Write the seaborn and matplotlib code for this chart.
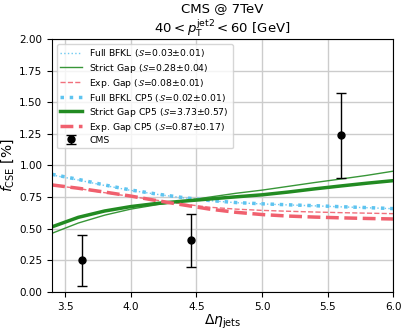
import matplotlib
matplotlib.use("Agg")
import matplotlib.pyplot as plt
import seaborn as sns

# rapidity grid for the theory curves
eta = [3.4, 3.6, 3.8, 4.0, 4.2, 4.4, 4.6, 4.8, 5.0, 5.2, 5.4, 5.6, 5.8, 6.0]

full_bfkl = [0.925, 0.885, 0.842, 0.803, 0.772, 0.744, 0.722, 0.706, 0.696, 0.688, 0.681, 0.673, 0.666, 0.658]
strict_gap = [0.464, 0.545, 0.607, 0.655, 0.690, 0.718, 0.750, 0.780, 0.805, 0.835, 0.865, 0.893, 0.922, 0.955]
exp_gap = [0.845, 0.818, 0.785, 0.755, 0.725, 0.695, 0.670, 0.655, 0.645, 0.638, 0.632, 0.627, 0.623, 0.619]
full_bfkl_cp5 = [0.930, 0.890, 0.846, 0.806, 0.774, 0.746, 0.723, 0.707, 0.697, 0.689, 0.682, 0.674, 0.667, 0.659]
strict_gap_cp5 = [0.515, 0.590, 0.640, 0.675, 0.700, 0.718, 0.735, 0.752, 0.768, 0.790, 0.815, 0.838, 0.860, 0.880]
exp_gap_cp5 = [0.846, 0.820, 0.790, 0.758, 0.722, 0.688, 0.655, 0.630, 0.612, 0.600, 0.592, 0.586, 0.581, 0.577]

# CMS data
cms_eta = [3.63, 4.46, 5.60]
cms_f = [0.25, 0.41, 1.24]
cms_err_lo = [0.20, 0.21, 0.34]
cms_err_hi = [0.20, 0.21, 0.33]

blue = "#5ec4f0"
green = "#228b22"
red = "#f0606e"

fig = plt.figure(figsize=(4.07, 3.34), dpi=100)
ax = fig.add_axes([0.128, 0.126, 0.838, 0.757])

sns.lineplot(x=eta, y=full_bfkl, ax=ax, color=blue, lw=1.0, ls=":", alpha=0.9,
             label=r"Full BFKL ($\mathcal{S}$=0.03$\pm$0.01)")
sns.lineplot(x=eta, y=strict_gap, ax=ax, color=green, lw=1.0, ls="-", alpha=0.9,
             label=r"Strict Gap ($\mathcal{S}$=0.28$\pm$0.04)")
sns.lineplot(x=eta, y=exp_gap, ax=ax, color=red, lw=1.0, ls="--", alpha=0.9,
             label=r"Exp. Gap ($\mathcal{S}$=0.08$\pm$0.01)")
sns.lineplot(x=eta, y=full_bfkl_cp5, ax=ax, color=blue, lw=2.5, ls=":",
             label=r"Full BFKL CP5 ($\mathcal{S}$=0.02$\pm$0.01)")
sns.lineplot(x=eta, y=strict_gap_cp5, ax=ax, color=green, lw=2.5, ls="-",
             label=r"Strict Gap CP5 ($\mathcal{S}$=3.73$\pm$0.57)")
sns.lineplot(x=eta, y=exp_gap_cp5, ax=ax, color=red, lw=2.5, ls="--",
             label=r"Exp. Gap CP5 ($\mathcal{S}$=0.87$\pm$0.17)")
ax.errorbar(cms_eta, cms_f, yerr=[cms_err_lo, cms_err_hi], fmt="o", color="black",
            ms=5, capsize=3.5, elinewidth=1, ecolor="black", label="CMS")

ax.set_xlim(3.4, 6.0)
ax.set_ylim(0, 2.0)
ax.set_xticks([3.5, 4.0, 4.5, 5.0, 5.5, 6.0])
ax.set_yticks([0, 0.25, 0.5, 0.75, 1.0, 1.25, 1.5, 1.75, 2.0])
ax.grid(True, color="#cccccc", lw=1)
ax.set_axisbelow(True)
ax.tick_params(labelsize=7.5)
ax.set_xlabel(r"$\Delta\eta_{\mathrm{jets}}$", fontsize=10, labelpad=1)
ax.set_ylabel(r"$f_{\mathrm{CSE}}$ [%]", fontsize=10, labelpad=2)
ax.set_title("CMS @ 7TeV\n" + r"$40 < p_{\mathrm{T}}^{\mathrm{jet2}} < 60$ [GeV]", fontsize=9.5, pad=3)
ax.legend(loc="upper left", fontsize=6.7, handlelength=2.3, borderpad=0.4, labelspacing=0.22)

fig.savefig("out.png", dpi=100)
